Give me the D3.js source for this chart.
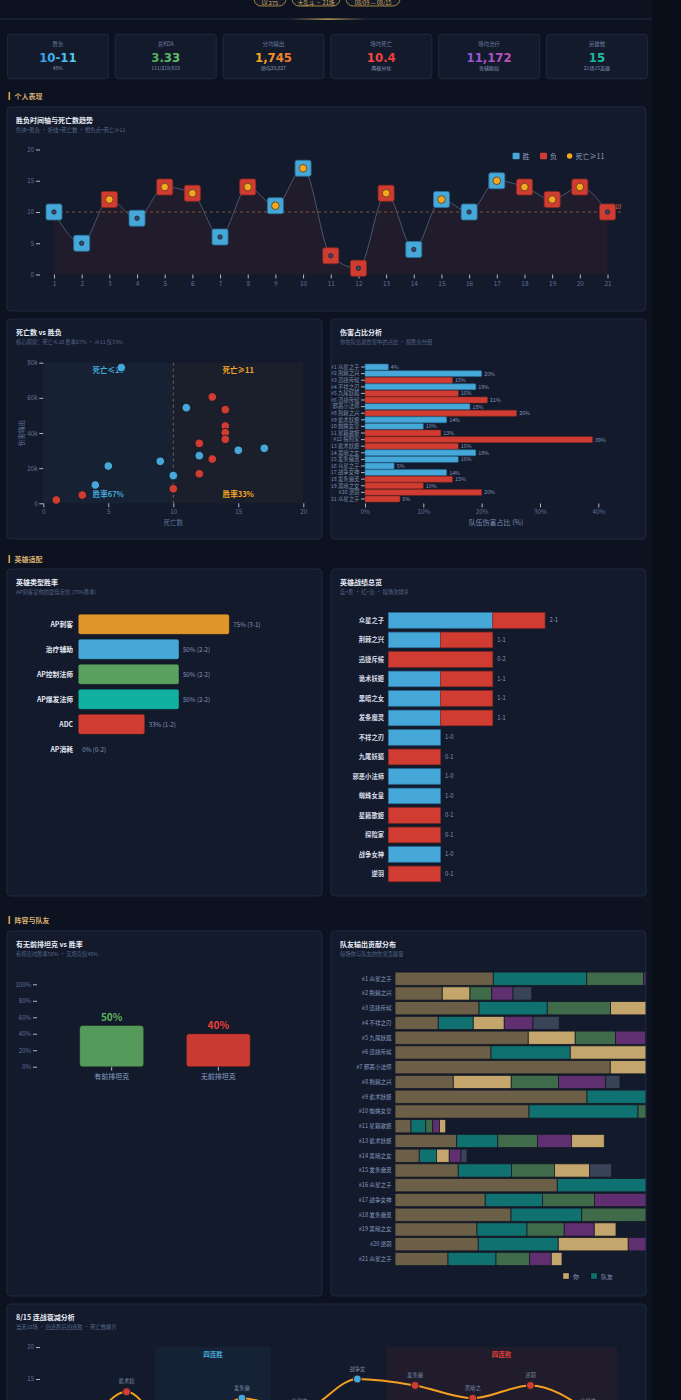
<!DOCTYPE html>
<html>
<head>
<meta charset="utf-8">
<script src="https://cdn.jsdelivr.net/npm/d3@7"></script>
<style>
  html, body { margin: 0; padding: 0; background: #0b0f1a; }
  svg { display: block; font-family: "Noto Sans CJK SC", "Noto Sans", sans-serif; }
</style>
</head>
<body>
<svg id="page" width="681" height="1400"></svg>
<script>
// ---- data ----
const badges = ["LV 275", "大乱斗 · 21场", "08/09 — 08/15"];

const kpiLabels = ["胜负", "总KDA", "分均输出", "场均死亡", "场均治疗", "英雄数"];
const kpiValues = ["10-11", "3.33", "1,745", "10.4", "11,172", "15"];
const kpiSubs = ["48%", "111/219/618", "场均28,827", "两极分化", "含辅助局", "21场15英雄"];

const gameIdx = d3.range(1, 22);
const heroes = ["众星之子","荆棘之兴","迅捷斥候","不祥之刃","九尾妖狐","迅捷斥候","邪恶小法师","荆棘之兴","诡术妖姬","蜘蛛女皇","星籁歌姬","探险家","诡术妖姬","黑暗之女","发条魔灵","众星之子","战争女神","发条魔灵","黑暗之女","逆羽","众星之子"];
const results = ["W","W","L","W","L","L","W","L","W","W","L","L","L","W","W","W","W","L","L","L","L"];
const deaths = [10,5,12,9,14,13,6,14,11,17,3,1,13,4,12,10,15,14,12,14,10];
const damageK = [15.4,21.2,34.1,23.9,53.3,60.5,77.2,44.0,54.4,31.3,4.7,1.9,25.2,10.4,27.1,15.8,30.2,40.2,16.8,36.4,8.3];
const damageShare = [4,20,15,19,16,21,18,26,14,10,13,39,16,19,16,5,14,15,10,20,6];
const avgDeathLine = 10;

const typeNames = ["AP刺客","治疗辅助","AP控制法师","AP爆发法师","ADC","AP消耗"];
const typeWins = [3,2,2,2,1,0];
const typeLosses = [1,2,2,2,2,2];

const heroNames = ["众星之子","荆棘之兴","迅捷斥候","诡术妖姬","黑暗之女","发条魔灵","不祥之刃","九尾妖狐","邪恶小法师","蜘蛛女皇","星籁歌姬","探险家","战争女神","逆羽"];
const heroWins = [2,1,0,1,1,1,1,0,1,1,0,0,1,0];
const heroLosses = [1,1,2,1,1,1,0,1,0,0,1,1,0,1];

const tankGroups = ["有前排坦克","无前排坦克"];
const tankRates = [50, 40];

const contribGames = gameIdx.filter(g => g !== 12);
const contribKeys = ["其他","队友A","队友B","你","队友C","队友D"];
const contribSegs = [
  [["其他",39.3],["队友A",37.4],["队友B",22.8],["队友C",8]],
  [["其他",18.9],["你",11.1],["队友B",8.7],["队友C",8.5],["队友D",7.5]],
  [["其他",33.6],["队友A",27.3],["队友B",25.3],["你",16]],
  [["其他",17.3],["队友A",14],["你",12.4],["队友C",11.5],["队友D",10.5]],
  [["其他",53.3],["你",18.8],["队友B",16.1],["队友C",12]],
  [["其他",38.4],["队友A",31.7],["你",32]],
  [["其他",86.1],["你",18]],
  [["其他",23.3],["你",23.2],["队友B",18.9],["队友C",18.9],["队友D",5.7]],
  [["其他",76.8],["队友A",28]],
  [["其他",53.6],["队友A",43.6],["队友B",4]],
  [["其他",6.4],["队友A",5.9],["队友B",2.8],["队友C",2.7],["你",2.5]],
  [["其他",24.7],["队友A",16.4],["队友B",15.9],["队友C",13.6],["你",13.1]],
  [["其他",9.7],["队友A",6.9],["你",5.1],["队友C",4.7],["队友D",2.4]],
  [["其他",25.3],["队友A",21.3],["队友B",17.2],["你",14.1],["队友D",8.7]],
  [["其他",64.9],["队友A",36]],
  [["其他",36.1],["队友A",22.9],["队友B",20.8],["队友C",22]],
  [["其他",46.4],["队友A",28.3],["队友B",28]],
  [["其他",32.8],["队友A",20],["队友B",14.9],["队友C",12],["你",8.7]],
  [["其他",33.3],["队友A",32],["你",28],["队友C",10]],
  [["其他",21.2],["队友A",19.2],["队友B",13.5],["队友C",8.6],["你",4.3]]
];

const dayGames = gameIdx.slice(11);   // 8/15: games 12-21
const winStreak = [14, 15];
const loseStreak = [18, 21];

// ---- colours ----
const BLUE = "#45a8d8", BLUE_S = "#2a6f98", RED = "#d03c32", RED_S = "#8c2820", ORANGE = "#f5a623";
const TXT = "#e8edf7", SUB = "#56688c", AX = "#5f739b", VAL = "#8495bb";
const contribColor = d3.scaleOrdinal().domain(contribKeys)
  .range(["#6b5f47","#0f7270","#3f6b4a","#c4a66c","#5f2f70","#3a4459"]);
const typeColor = ["#e0952a", BLUE, "#5aa05f", "#12b0a0", RED, "#888"];

const svg = d3.select("#page");
const defs = svg.append("defs");
function grad(id, c1, c2) {
  const g = defs.append("linearGradient").attr("id", id).attr("x1", 0).attr("x2", 1).attr("y1", 0).attr("y2", 0);
  g.append("stop").attr("offset", 0).attr("stop-color", c1);
  g.append("stop").attr("offset", 1).attr("stop-color", c2);
}
grad("gBlue", "#3a9de6", "#55d0f0");
grad("gGreen", "#4caf50", "#6cc070");
grad("gOrange", "#f5b020", "#f07030");
grad("gRed", "#ff4a40", "#e83a3a");
grad("gPurple", "#8a5ae0", "#c44fb0");
grad("gTeal", "#10b59a", "#22c4a4");
const hl = defs.append("linearGradient").attr("id", "gLine");
hl.append("stop").attr("offset", 0).attr("stop-color", "#c9a04a").attr("stop-opacity", 0);
hl.append("stop").attr("offset", 0.5).attr("stop-color", "#e0b860").attr("stop-opacity", 1);
hl.append("stop").attr("offset", 1).attr("stop-color", "#c9a04a").attr("stop-opacity", 0);

// ---- page background ----
svg.append("rect").attr("width", 681).attr("height", 1400).attr("fill", "#0d1220");
svg.append("rect").attr("x", 652).attr("width", 29).attr("height", 1400).attr("fill", "#0a0e18");

// header badges (top is scrolled off)
const bx = [254, 292, 346], bw = [32, 48, 54];
badges.forEach((b, i) => {
  svg.append("rect").attr("x", bx[i]).attr("y", -8).attr("width", bw[i]).attr("height", 14).attr("rx", 7)
    .attr("fill", "#141a28").attr("stroke", "#c9a04a").attr("stroke-width", 0.8);
  svg.append("text").attr("x", bx[i] + bw[i] / 2).attr("y", 4.8).attr("text-anchor", "middle")
    .attr("fill", "#d8b060").style("font-size", "5.6px").text(b);
});
svg.append("line").attr("x1", 0).attr("x2", 652).attr("y1", 19).attr("y2", 19).attr("stroke", "#232d44");
svg.append("rect").attr("x", 290).attr("y", 18.5).attr("width", 76).attr("height", 1.2).attr("fill", "url(#gLine)");

// KPI cards
const kpiFill = ["url(#gBlue)", "url(#gGreen)", "url(#gOrange)", "url(#gRed)", "url(#gPurple)", "url(#gTeal)"];
kpiLabels.forEach((l, i) => {
  const x = 7.4 + i * 107.8;
  svg.append("rect").attr("x", x).attr("y", 34.3).attr("width", 101).attr("height", 44.4).attr("rx", 3)
    .attr("fill", "#121a2c").attr("stroke", "#1f2a42");
  svg.append("text").attr("x", x + 50.5).attr("y", 45.5).attr("text-anchor", "middle").attr("fill", "#6a7a9c")
    .style("font-size", "5.5px").text(l);
  svg.append("text").attr("x", x + 50.5).attr("y", 62).attr("text-anchor", "middle").attr("fill", kpiFill[i])
    .style("font-size", "13px").style("font-weight", "bold").style("font-family", "'DejaVu Sans Condensed', 'DejaVu Sans', sans-serif")
    .text(kpiValues[i]);
  svg.append("text").attr("x", x + 50.5).attr("y", 70).attr("text-anchor", "middle").attr("fill", "#8a98b8")
    .style("font-size", "5px").text(kpiSubs[i]);
});

function section(y, label) {
  svg.append("rect").attr("x", 8.5).attr("y", y - 4).attr("width", 1.6).attr("height", 8).attr("fill", "#d8a848");
  svg.append("text").attr("x", 14.5).attr("y", y + 2.5).attr("fill", "#d8b070").style("font-size", "7px")
    .style("font-weight", "bold").text(label);
}
function panel(x, y, w, h, title, sub) {
  svg.append("rect").attr("x", x).attr("y", y).attr("width", w).attr("height", h).attr("rx", 4)
    .attr("fill", "#131a2b").attr("stroke", "#1f2a42");
  svg.append("text").attr("x", x + 9).attr("y", y + 15.5).attr("fill", TXT).style("font-size", "7px")
    .style("font-weight", "bold").text(title);
  svg.append("text").attr("x", x + 9).attr("y", y + 25).attr("fill", SUB).style("font-size", "5.3px").text(sub);
}
function styleAxis(g, size, color) {
  g.attr("font-family", null).attr("font-size", null);
  g.select(".domain").remove();
  g.selectAll(".tick line").attr("stroke", "#aeb8cc");
  g.selectAll(".tick text").attr("fill", color || AX).style("font-size", (size || 6) + "px");
  return g;
}

// ================= 个人表现 =================
section(96, "个人表现");
panel(7, 107, 639, 204, "胜负时间轴与死亡数趋势", "色块=胜负 · 折线=死亡数 · 橙色点=死亡≥11");

const x1 = d3.scaleLinear().domain([1, 21]).range([54, 607.5]);
const y1 = d3.scaleLinear().domain([0, 20]).range([274.5, 149.5]);
styleAxis(svg.append("g").attr("transform", "translate(40,0)")
  .call(d3.axisLeft(y1).tickValues([0, 5, 10, 15, 20]).tickSize(4).tickPadding(2)), 6);
styleAxis(svg.append("g").attr("transform", "translate(0,274.5)")
  .call(d3.axisBottom(x1).tickValues(gameIdx).tickFormat(d3.format("d")).tickSize(4).tickPadding(2.5)), 6.5);

svg.append("path").datum(deaths)
  .attr("d", d3.area().x((d, i) => x1(gameIdx[i])).y0(y1(0)).y1(d => y1(d)).curve(d3.curveMonotoneX))
  .attr("fill", RED).attr("fill-opacity", 0.07);
svg.append("path").datum(deaths)
  .attr("d", d3.line().x((d, i) => x1(gameIdx[i])).y(d => y1(d)).curve(d3.curveMonotoneX))
  .attr("fill", "none").attr("stroke", "#4a5670").attr("stroke-width", 1);
svg.append("line").attr("x1", x1(1)).attr("x2", 621).attr("y1", y1(avgDeathLine)).attr("y2", y1(avgDeathLine))
  .attr("stroke", "#8a5a3a").attr("stroke-dasharray", "3,3").attr("stroke-width", 0.9);
svg.append("text").attr("x", 621).attr("y", y1(avgDeathLine) - 3).attr("text-anchor", "end")
  .attr("fill", "#e0703a").style("font-size", "5.5px").text("均值" + avgDeathLine);

const gm = svg.append("g").selectAll("g").data(gameIdx).enter().append("g")
  .attr("transform", (g, i) => `translate(${x1(g)},${y1(deaths[i])})`);
gm.append("rect").attr("x", -8).attr("y", -8).attr("width", 16).attr("height", 16).attr("rx", 2)
  .attr("fill", (g, i) => results[i] === "W" ? BLUE : RED)
  .attr("stroke", (g, i) => results[i] === "W" ? BLUE_S : RED_S).attr("stroke-width", 0.8);
gm.append("circle").attr("r", (g, i) => deaths[i] >= 11 ? 3.8 : 2.2)
  .attr("fill", (g, i) => deaths[i] >= 11 ? ORANGE : "#3d4862")
  .attr("stroke", (g, i) => deaths[i] >= 11 ? "#5a3a10" : "#1c2233").attr("stroke-width", 0.8);

// legend
svg.append("rect").attr("x", 512.6).attr("y", 152.7).attr("width", 7).attr("height", 6.6).attr("rx", 1).attr("fill", BLUE);
svg.append("text").attr("x", 522.6).attr("y", 158.5).attr("fill", "#8d9bbd").style("font-size", "7px").text("胜");
svg.append("rect").attr("x", 540).attr("y", 152.7).attr("width", 7).attr("height", 6.6).attr("rx", 1).attr("fill", RED);
svg.append("text").attr("x", 550).attr("y", 158.5).attr("fill", "#8d9bbd").style("font-size", "7px").text("负");
svg.append("circle").attr("cx", 569.6).attr("cy", 156).attr("r", 2.7).attr("fill", ORANGE);
svg.append("text").attr("x", 575.6).attr("y", 158.5).attr("fill", "#8d9bbd").style("font-size", "7px").text("死亡≥11");

// ---- scatter ----
panel(7, 319, 315, 220, "死亡数 vs 胜负", "核心洞察：死亡≤10 胜率67% · ≥11 仅33%");
const xs = d3.scaleLinear().domain([0, 20]).range([43.3, 303.3]);
const ys = d3.scaleLinear().domain([0, 80]).range([503.3, 362.7]);
svg.append("rect").attr("x", xs(0)).attr("y", ys(80)).attr("width", xs(10) - xs(0)).attr("height", ys(0) - ys(80))
  .attr("fill", BLUE).attr("fill-opacity", 0.05);
svg.append("rect").attr("x", xs(10)).attr("y", ys(80)).attr("width", xs(20) - xs(10)).attr("height", ys(0) - ys(80))
  .attr("fill", "#f0b040").attr("fill-opacity", 0.03);
svg.append("line").attr("x1", xs(10)).attr("x2", xs(10)).attr("y1", ys(80)).attr("y2", ys(0))
  .attr("stroke", "#8a7450").attr("stroke-dasharray", "3,3").attr("stroke-width", 0.8);
styleAxis(svg.append("g").attr("transform", `translate(${xs(0)},0)`)
  .call(d3.axisLeft(ys).tickValues([0, 20, 40, 60, 80]).tickFormat(d => d === 0 ? "0" : d + "k").tickSize(4).tickPadding(1.5)), 6.3);
styleAxis(svg.append("g").attr("transform", `translate(0,${ys(0)})`)
  .call(d3.axisBottom(xs).tickValues([0, 5, 10, 15, 20]).tickSize(4).tickPadding(2.5)), 6.3);
svg.append("text").attr("x", 173.3).attr("y", 524.5).attr("text-anchor", "middle").attr("fill", AX)
  .style("font-size", "6.5px").text("死亡数");
svg.append("text").attr("transform", "translate(23.5,433) rotate(-90)").attr("text-anchor", "middle").attr("fill", AX)
  .style("font-size", "6.5px").text("伤害输出");
const zoneLbl = [["死亡≤10", 5, 372.5, BLUE], ["死亡≥11", 15, 372.5, ORANGE], ["胜率67%", 5, 497, BLUE], ["胜率33%", 15, 497, ORANGE]];
zoneLbl.forEach(z => svg.append("text").attr("x", xs(z[1])).attr("y", z[2]).attr("text-anchor", "middle")
  .attr("fill", z[3]).style("font-size", "7.5px").style("font-weight", "bold").text(z[0]));
svg.append("g").selectAll("circle").data(gameIdx).enter().append("circle")
  .attr("cx", (g, i) => xs(deaths[i])).attr("cy", (g, i) => ys(damageK[i])).attr("r", 4.3)
  .attr("fill", (g, i) => results[i] === "W" ? BLUE : RED).attr("stroke", "#151a24").attr("stroke-width", 0.9);

// ---- damage share ----
panel(331, 319, 315, 220, "伤害占比分析", "你在队伍总伤害中的占比 · 按胜负分组");
defs.append("clipPath").attr("id", "clipDmg").append("rect").attr("x", 331.5).attr("y", 319).attr("width", 314).attr("height", 220);
const xd = d3.scaleLinear().domain([0, 40]).range([365, 598.3]);
const yd = d3.scaleBand().domain(d3.range(21)).range([363.4, 502.6]).padding(0.1);
const dg = svg.append("g").attr("clip-path", "url(#clipDmg)");
styleAxis(dg.append("g").attr("transform", "translate(365,0)")
  .call(d3.axisLeft(yd).tickFormat(i => `#${i + 1} ${heroes[i]}`).tickSize(4).tickPadding(1.5)), 5.4, "#7a8aaa");
styleAxis(svg.append("g").attr("transform", "translate(0,503.5)")
  .call(d3.axisBottom(xd).tickValues([0, 10, 20, 30, 40]).tickFormat(d => d + "%").tickSize(4).tickPadding(2.5)), 6.3);
svg.append("text").attr("x", 496).attr("y", 524.5).attr("text-anchor", "middle").attr("fill", "#7a8cb0")
  .style("font-size", "7px").text("队伍伤害占比 (%)");
svg.append("g").selectAll("rect").data(damageShare).enter().append("rect")
  .attr("x", xd(0)).attr("y", (d, i) => yd(i)).attr("width", d => xd(d) - xd(0)).attr("height", yd.bandwidth()).attr("rx", 0.8)
  .attr("fill", (d, i) => results[i] === "W" ? BLUE : RED).attr("stroke", (d, i) => results[i] === "W" ? BLUE_S : RED_S)
  .attr("stroke-width", 0.6);
svg.append("g").selectAll("text").data(damageShare).enter().append("text")
  .attr("x", d => xd(d) + 2.5).attr("y", (d, i) => yd(i) + yd.bandwidth() / 2 + 2).attr("fill", VAL)
  .style("font-size", "5.4px").text(d => d + "%");

// ================= 英雄适配 =================
section(559, "英雄适配");
panel(7, 569, 315, 327, "英雄类型胜率", "AP刺客是你的最佳定位 (75%胜率)");
const xt = d3.scaleLinear().domain([0, 100]).range([78.3, 279.6]);
const yt = d3.scaleBand().domain(typeNames).range([609.3, 764.3]).padding(0.2);
const typeRate = typeWins.map((w, i) => Math.round(100 * w / (w + typeLosses[i])));
svg.append("g").selectAll("rect").data(typeNames).enter().append("rect")
  .attr("x", xt(0)).attr("y", d => yt(d)).attr("width", (d, i) => xt(typeRate[i]) - xt(0)).attr("height", yt.bandwidth())
  .attr("rx", 2).attr("fill", (d, i) => typeColor[i]).attr("stroke", "#000").attr("stroke-opacity", 0.3).attr("stroke-width", 0.8);
svg.append("g").selectAll("text").data(typeNames).enter().append("text")
  .attr("x", 73).attr("y", d => yt(d) + yt.bandwidth() / 2 + 2.5).attr("text-anchor", "end").attr("fill", "#e2e7f2")
  .style("font-size", "6.8px").style("font-weight", "bold").text(d => d);
svg.append("g").selectAll("text").data(typeNames).enter().append("text")
  .attr("x", (d, i) => xt(typeRate[i]) + 4).attr("y", d => yt(d) + yt.bandwidth() / 2 + 2.2).attr("fill", VAL)
  .style("font-size", "6.2px").text((d, i) => `${typeRate[i]}% (${typeWins[i]}-${typeLosses[i]})`);

panel(331, 569, 315, 327, "英雄战绩总览", "蓝=胜 · 红=负 · 按场次排序");
const xh = d3.scaleLinear().domain([0, 3]).range([388.3, 545]);
const yh = d3.scaleBand().domain(heroNames).range([608.75, 885.65]).padding(0.2);
svg.append("g").selectAll("rect").data(heroNames).enter().append("rect")
  .attr("x", xh(0)).attr("y", d => yh(d)).attr("width", (d, i) => xh(heroWins[i]) - xh(0)).attr("height", yh.bandwidth())
  .attr("fill", BLUE).attr("stroke", BLUE_S).attr("stroke-width", 0.7);
svg.append("g").selectAll("rect").data(heroNames).enter().append("rect")
  .attr("x", (d, i) => xh(heroWins[i])).attr("y", d => yh(d))
  .attr("width", (d, i) => xh(heroLosses[i]) - xh(0)).attr("height", yh.bandwidth())
  .attr("fill", RED).attr("stroke", RED_S).attr("stroke-width", 0.7);
svg.append("g").selectAll("text").data(heroNames).enter().append("text")
  .attr("x", 384).attr("y", d => yh(d) + yh.bandwidth() / 2 + 2.3).attr("text-anchor", "end").attr("fill", "#d8dde9")
  .style("font-size", "6.3px").style("font-weight", "bold").text(d => d);
svg.append("g").selectAll("text").data(heroNames).enter().append("text")
  .attr("x", (d, i) => xh(heroWins[i] + heroLosses[i]) + 4.5).attr("y", d => yh(d) + yh.bandwidth() / 2 + 2)
  .attr("fill", VAL).style("font-size", "5.8px").text((d, i) => `${heroWins[i]}-${heroLosses[i]}`);

// ================= 阵容与队友 =================
section(920, "阵容与队友");
panel(7, 931, 315, 365, "有无前排坦克 vs 胜率", "有坦克时胜率50% · 无坦克仅40%");
const yk = d3.scaleLinear().domain([0, 100]).range([1066.7, 984.3]);
const xk = d3.scaleBand().domain(tankGroups).range([37, 293]).padding(0.4);
styleAxis(svg.append("g").attr("transform", "translate(37,0)")
  .call(d3.axisLeft(yk).tickValues([0, 20, 40, 60, 80, 100]).tickFormat(d => d + "%").tickSize(4).tickPadding(2)), 6);
styleAxis(svg.append("g").attr("transform", "translate(0,1066.7)")
  .call(d3.axisBottom(xk).tickSize(4).tickPadding(3)), 7, "#8ea0c8");
const tankCol = ["#559a5a", "#c83a32"], tankTxt = ["#5cb85c", "#f04038"];
svg.append("g").selectAll("rect").data(tankGroups).enter().append("rect")
  .attr("x", d => xk(d)).attr("y", (d, i) => yk(tankRates[i])).attr("width", xk.bandwidth())
  .attr("height", (d, i) => yk(0) - yk(tankRates[i])).attr("rx", 3)
  .attr("fill", (d, i) => tankCol[i]).attr("stroke", "#000").attr("stroke-opacity", 0.3);
svg.append("g").selectAll("text").data(tankGroups).enter().append("text")
  .attr("x", d => xk(d) + xk.bandwidth() / 2).attr("y", (d, i) => yk(tankRates[i]) - 4.5).attr("text-anchor", "middle")
  .attr("fill", (d, i) => tankTxt[i]).style("font-size", "10px").style("font-weight", "bold").text((d, i) => tankRates[i] + "%");
svg.selectAll(".tick").raise();

panel(331, 931, 315, 365, "队友输出贡献分布", "每场你与队友的伤害贡献量");
defs.append("clipPath").attr("id", "clipTm").append("rect").attr("x", 331).attr("y", 931).attr("width", 314.5).attr("height", 365);
const xc = d3.scaleLinear().domain([0, 100]).range([395, 645]);
const yc = d3.scaleBand().domain(contribGames).range([970.6, 1267.1]).padding(0.1);
const rowsG = svg.append("g").attr("clip-path", "url(#clipTm)").selectAll("g").data(contribGames).enter().append("g");
rowsG.each(function (g, r) {
  const segs = contribSegs[r];
  let acc = 0;
  const row = d3.select(this);
  segs.forEach(s => {
    row.append("rect").attr("x", xc(acc)).attr("y", yc(g)).attr("width", xc(s[1]) - xc(0)).attr("height", yc.bandwidth())
      .attr("fill", contribColor(s[0])).attr("stroke", "#161b26").attr("stroke-width", 0.8);
    acc += s[1];
  });
});
svg.append("g").selectAll("text").data(contribGames).enter().append("text")
  .attr("x", 391.7).attr("y", g => yc(g) + yc.bandwidth() / 2 + 2).attr("text-anchor", "end").attr("fill", "#8a9ac0")
  .style("font-size", "5.6px").text(g => `#${g} ${heroes[g - 1]}`);
[["你", 563], ["队友A", 591]].forEach(k => {
  svg.append("rect").attr("x", k[1]).attr("y", 1273).attr("width", 6).attr("height", 6).attr("fill", contribColor(k[0]))
    .attr("stroke", "#000").attr("stroke-opacity", 0.3);
  svg.append("text").attr("x", k[1] + 10).attr("y", 1278.5).attr("fill", "#8a9ac0").style("font-size", "6px")
    .text(k[0] === "你" ? "你" : "队友");
});

// ================= 8/15 =================
panel(7, 1304, 639, 200, "8/15 连战衰减分析", "当天10场 · 四连胜后四连败 · 死亡数飙升");
const xb = d3.scaleBand().domain(dayGames).range([40, 617]).padding(0);
const yb = d3.scaleLinear().domain([0, 20]).range([1475, 1347]);
svg.append("rect").attr("x", xb(winStreak[0])).attr("y", yb(20))
  .attr("width", xb(winStreak[1]) + xb.bandwidth() - xb(winStreak[0])).attr("height", yb(0) - yb(20))
  .attr("fill", BLUE).attr("fill-opacity", 0.06);
svg.append("rect").attr("x", xb(loseStreak[0])).attr("y", yb(20))
  .attr("width", xb(loseStreak[1]) + xb.bandwidth() - xb(loseStreak[0])).attr("height", yb(0) - yb(20))
  .attr("fill", RED).attr("fill-opacity", 0.07);
svg.append("text").attr("x", xb(winStreak[0]) + (xb(winStreak[1]) + xb.bandwidth() - xb(winStreak[0])) / 2).attr("y", 1356.5)
  .attr("text-anchor", "middle").attr("fill", BLUE).style("font-size", "6.5px").style("font-weight", "bold").text("四连胜");
svg.append("text").attr("x", xb(loseStreak[0]) + (xb(loseStreak[1]) + xb.bandwidth() - xb(loseStreak[0])) / 2).attr("y", 1356.5)
  .attr("text-anchor", "middle").attr("fill", "#e04038").style("font-size", "6.5px").style("font-weight", "bold").text("四连败");
// only the ticks that fall inside the 1400px viewport
styleAxis(svg.append("g").attr("transform", "translate(40,0)")
  .call(d3.axisLeft(yb).tickValues([0, 5, 10, 15, 20].filter(v => yb(v) < 1395)).tickSize(4).tickPadding(2)), 6);
const cx = g => xb(g) + xb.bandwidth() / 2;
svg.append("path").datum(dayGames)
  .attr("d", d3.line().x(g => cx(g)).y(g => yb(deaths[g - 1])).curve(d3.curveMonotoneX))
  .attr("fill", "none").attr("stroke", "#f5a020").attr("stroke-width", 2);
svg.append("g").selectAll("circle").data(dayGames).enter().append("circle")
  .attr("cx", g => cx(g)).attr("cy", g => yb(deaths[g - 1])).attr("r", 4)
  .attr("fill", g => results[g - 1] === "W" ? BLUE : RED).attr("stroke", "#1a1d26").attr("stroke-width", 0.9);
svg.append("g").selectAll("text").data(dayGames.filter(g => yb(deaths[g - 1]) - 8.5 < 1406)).enter().append("text")
  .attr("x", g => cx(g)).attr("y", g => yb(deaths[g - 1]) - 8.5).attr("text-anchor", "middle").attr("fill", "#7a8aaa")
  .style("font-size", "5.3px").text(g => heroes[g - 1].slice(0, 3));
</script>
</body>
</html>
